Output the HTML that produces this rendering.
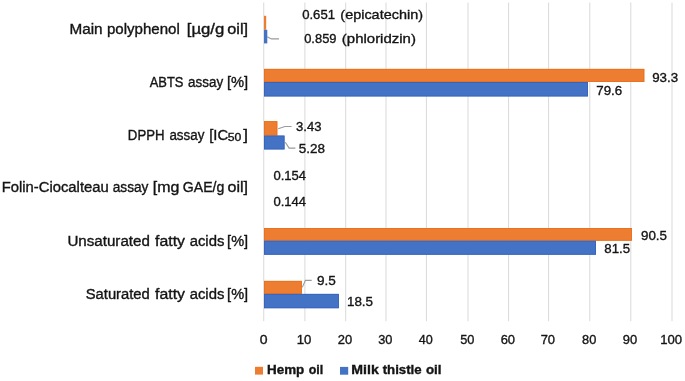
<!DOCTYPE html><html><head><meta charset="utf-8"><style>html,body{margin:0;padding:0;background:#fff;overflow:hidden}svg{display:block;will-change:transform}text{font-family:"Liberation Sans",sans-serif}</style></head><body>
<svg width="685" height="381" viewBox="0 0 685 381">
<rect width="685" height="381" fill="#fff"/>
<line x1="263.76" y1="2.5" x2="263.76" y2="321.2" stroke="#d9d9d9" stroke-width="1"/>
<line x1="304.90" y1="2.5" x2="304.90" y2="321.2" stroke="#d9d9d9" stroke-width="1"/>
<line x1="345.70" y1="2.5" x2="345.70" y2="321.2" stroke="#d9d9d9" stroke-width="1"/>
<line x1="386.00" y1="2.5" x2="386.00" y2="321.2" stroke="#d9d9d9" stroke-width="1"/>
<line x1="426.40" y1="2.5" x2="426.40" y2="321.2" stroke="#d9d9d9" stroke-width="1"/>
<line x1="468.00" y1="2.5" x2="468.00" y2="321.2" stroke="#d9d9d9" stroke-width="1"/>
<line x1="508.60" y1="2.5" x2="508.60" y2="321.2" stroke="#d9d9d9" stroke-width="1"/>
<line x1="548.60" y1="2.5" x2="548.60" y2="321.2" stroke="#d9d9d9" stroke-width="1"/>
<line x1="589.80" y1="2.5" x2="589.80" y2="321.2" stroke="#d9d9d9" stroke-width="1"/>
<line x1="630.80" y1="2.5" x2="630.80" y2="321.2" stroke="#d9d9d9" stroke-width="1"/>
<line x1="672.00" y1="2.5" x2="672.00" y2="321.2" stroke="#d9d9d9" stroke-width="1"/>
<rect x="264.0" y="15.8" width="2.20" height="14.00" fill="#ed7d31"/>
<rect x="264.0" y="29.8" width="3.30" height="13.60" fill="#4472c4"/>
<rect x="264.0" y="68.9" width="380.30" height="13.10" fill="#ed7d31"/>
<rect x="264.0" y="82.0" width="324.00" height="14.40" fill="#4472c4"/>
<rect x="264.4" y="69.30000000000001" width="379.50" height="12.30" fill="none" stroke="#e86f1c" stroke-width="0.8"/>
<rect x="264.4" y="82.4" width="323.20" height="13.60" fill="none" stroke="#3562bd" stroke-width="0.8"/>
<rect x="264.0" y="121.2" width="13.30" height="14.40" fill="#ed7d31"/>
<rect x="264.0" y="135.6" width="20.50" height="13.80" fill="#4472c4"/>
<rect x="264.4" y="121.60000000000001" width="12.50" height="13.60" fill="none" stroke="#e86f1c" stroke-width="0.8"/>
<rect x="264.4" y="136.0" width="19.70" height="13.00" fill="none" stroke="#3562bd" stroke-width="0.8"/>
<rect x="264.0" y="228.0" width="367.90" height="12.70" fill="#ed7d31"/>
<rect x="264.0" y="240.7" width="332.00" height="14.00" fill="#4472c4"/>
<rect x="264.4" y="228.4" width="367.10" height="11.90" fill="none" stroke="#e86f1c" stroke-width="0.8"/>
<rect x="264.4" y="241.1" width="331.20" height="13.20" fill="none" stroke="#3562bd" stroke-width="0.8"/>
<rect x="264.0" y="280.9" width="37.90" height="13.00" fill="#ed7d31"/>
<rect x="264.0" y="293.9" width="74.90" height="14.30" fill="#4472c4"/>
<rect x="264.4" y="281.29999999999995" width="37.10" height="12.20" fill="none" stroke="#e86f1c" stroke-width="0.8"/>
<rect x="264.4" y="294.29999999999995" width="74.10" height="13.50" fill="none" stroke="#3562bd" stroke-width="0.8"/>
<path d="M267.2,36.7 L271.4,38.9 L279.0,38.9" fill="none" stroke="#9a9a9a" stroke-width="1.1"/>
<path d="M278.2,128.8 L284.9,126.5 L291.6,126.5" fill="none" stroke="#9a9a9a" stroke-width="1.1"/>
<path d="M285.3,142.2 L289.1,148.1 L295.4,148.1" fill="none" stroke="#9a9a9a" stroke-width="1.1"/>
<path d="M302.3,287.4 L305.4,280.4 L311.7,280.4" fill="none" stroke="#9a9a9a" stroke-width="1.1"/>
<rect x="255.0" y="366.8" width="8" height="7.8" fill="#ed7d31"/>
<rect x="340.0" y="366.9" width="8.2" height="7.8" fill="#4472c4"/>
<text transform="translate(69.40,34.00) scale(1.0864,1)" font-size="14.08" fill="#141414" stroke="#141414" stroke-width="0.35">Main</text>
<text transform="translate(106.96,34.00) scale(1.0693,1)" font-size="14.08" fill="#141414" stroke="#141414" stroke-width="0.35">polyphenol</text>
<text transform="translate(186.75,34.00) scale(1.1896,1)" font-size="14.08" fill="#141414" stroke="#141414" stroke-width="0.35">[µg/g</text>
<text transform="translate(227.19,34.00) scale(1.1598,1)" font-size="14.08" fill="#141414" stroke="#141414" stroke-width="0.35">oil]</text>
<text transform="translate(149.70,87.00) scale(0.9176,1)" font-size="14.08" fill="#141414" stroke="#141414" stroke-width="0.35">ABTS</text>
<text transform="translate(188.08,87.00) scale(0.9548,1)" font-size="14.08" fill="#141414" stroke="#141414" stroke-width="0.35">assay</text>
<text transform="translate(226.88,87.00) scale(1.0466,1)" font-size="14.08" fill="#141414" stroke="#141414" stroke-width="0.35">[%]</text>
<text transform="translate(127.87,140.00) scale(0.9384,1)" font-size="14.08" fill="#141414" stroke="#141414" stroke-width="0.35">DPPH</text>
<text transform="translate(169.38,140.00) scale(0.9521,1)" font-size="14.08" fill="#141414" stroke="#141414" stroke-width="0.35">assay</text>
<text transform="translate(209.17,140.00) scale(1.0527,1)" font-size="14.08" fill="#141414" stroke="#141414" stroke-width="0.35">[IC</text>
<text transform="translate(227.82,140.60) scale(1.1764,1)" font-size="10.38" fill="#141414" stroke="#141414" stroke-width="0.35">50</text>
<text transform="translate(243.30,140.00) scale(1.2013,1)" font-size="14.08" fill="#141414" stroke="#141414" stroke-width="0.35">]</text>
<text transform="translate(1.74,192.00) scale(1.0526,1)" font-size="14.08" fill="#141414" stroke="#141414" stroke-width="0.35">Folin-Ciocalteau</text>
<text transform="translate(112.67,192.00) scale(0.9741,1)" font-size="14.08" fill="#141414" stroke="#141414" stroke-width="0.35">assay</text>
<text transform="translate(152.80,192.00) scale(1.1330,1)" font-size="14.08" fill="#141414" stroke="#141414" stroke-width="0.35">[mg</text>
<text transform="translate(182.84,192.00) scale(1.0018,1)" font-size="14.08" fill="#141414" stroke="#141414" stroke-width="0.35">GAE/g</text>
<text transform="translate(227.50,192.00) scale(1.1419,1)" font-size="14.08" fill="#141414" stroke="#141414" stroke-width="0.35">oil]</text>
<text transform="translate(67.45,246.00) scale(1.0742,1)" font-size="14.08" fill="#141414" stroke="#141414" stroke-width="0.35">Unsaturated</text>
<text transform="translate(155.00,246.00) scale(1.1276,1)" font-size="14.08" fill="#141414" stroke="#141414" stroke-width="0.35">fatty</text>
<text transform="translate(189.64,246.00) scale(1.0566,1)" font-size="14.08" fill="#141414" stroke="#141414" stroke-width="0.35">acids</text>
<text transform="translate(227.09,246.00) scale(1.0359,1)" font-size="14.08" fill="#141414" stroke="#141414" stroke-width="0.35">[%]</text>
<text transform="translate(85.74,299.00) scale(1.0497,1)" font-size="14.08" fill="#141414" stroke="#141414" stroke-width="0.35">Saturated</text>
<text transform="translate(155.00,299.00) scale(1.1276,1)" font-size="14.08" fill="#141414" stroke="#141414" stroke-width="0.35">fatty</text>
<text transform="translate(189.64,299.00) scale(1.0566,1)" font-size="14.08" fill="#141414" stroke="#141414" stroke-width="0.35">acids</text>
<text transform="translate(227.09,299.00) scale(1.0359,1)" font-size="14.08" fill="#141414" stroke="#141414" stroke-width="0.35">[%]</text>
<text transform="translate(302.19,19.00) scale(1.0140,1)" font-size="12.94" fill="#141414" stroke="#141414" stroke-width="0.35">0.651</text>
<text transform="translate(340.32,19.00) scale(1.1165,1)" font-size="12.94" fill="#141414" stroke="#141414" stroke-width="0.35">(epicatechin)</text>
<text transform="translate(304.20,43.00) scale(0.9982,1)" font-size="12.94" fill="#141414" stroke="#141414" stroke-width="0.35">0.859</text>
<text transform="translate(341.80,43.00) scale(1.1588,1)" font-size="12.94" fill="#141414" stroke="#141414" stroke-width="0.35">(phloridzin)</text>
<text transform="translate(652.17,82.00) scale(1.0308,1)" font-size="12.94" fill="#141414" stroke="#141414" stroke-width="0.35">93.3</text>
<text transform="translate(596.27,95.00) scale(1.0308,1)" font-size="12.94" fill="#141414" stroke="#141414" stroke-width="0.35">79.6</text>
<text transform="translate(296.09,131.20) scale(1.0099,1)" font-size="12.94" fill="#141414" stroke="#141414" stroke-width="0.35">3.43</text>
<text transform="translate(298.78,152.60) scale(1.0429,1)" font-size="12.94" fill="#141414" stroke="#141414" stroke-width="0.35">5.28</text>
<text transform="translate(273.39,179.50) scale(1.0107,1)" font-size="12.94" fill="#141414" stroke="#141414" stroke-width="0.35">0.154</text>
<text transform="translate(273.39,205.90) scale(1.0107,1)" font-size="12.94" fill="#141414" stroke="#141414" stroke-width="0.35">0.144</text>
<text transform="translate(640.97,239.70) scale(1.0350,1)" font-size="12.94" fill="#141414" stroke="#141414" stroke-width="0.35">90.5</text>
<text transform="translate(604.29,252.80) scale(1.0222,1)" font-size="12.94" fill="#141414" stroke="#141414" stroke-width="0.35">81.5</text>
<text transform="translate(316.96,285.30) scale(1.0498,1)" font-size="12.94" fill="#141414" stroke="#141414" stroke-width="0.35">9.5</text>
<text transform="translate(346.96,306.20) scale(1.0354,1)" font-size="12.94" fill="#141414" stroke="#141414" stroke-width="0.35">18.5</text>
<text transform="translate(267.06,374.30) scale(1.0970,1)" font-size="12.23" fill="#141414" stroke="#141414" stroke-width="0.35" font-weight="bold">Hemp</text>
<text transform="translate(308.71,374.30) scale(1.0180,1)" font-size="12.23" fill="#141414" stroke="#141414" stroke-width="0.35" font-weight="bold">oil</text>
<text transform="translate(351.32,374.30) scale(1.1558,1)" font-size="12.23" fill="#141414" stroke="#141414" stroke-width="0.35" font-weight="bold">Milk</text>
<text transform="translate(382.70,374.30) scale(1.0808,1)" font-size="12.23" fill="#141414" stroke="#141414" stroke-width="0.35" font-weight="bold">thistle</text>
<text transform="translate(425.88,374.30) scale(1.0940,1)" font-size="12.23" fill="#141414" stroke="#141414" stroke-width="0.35" font-weight="bold">oil</text>
<text transform="translate(259.82,344.30) scale(1.0817,1)" font-size="12.94" fill="#141414" stroke="#141414" stroke-width="0.35">0</text>
<text transform="translate(296.73,344.30) scale(1.0178,1)" font-size="12.94" fill="#141414" stroke="#141414" stroke-width="0.35">10</text>
<text transform="translate(337.74,344.30) scale(1.0025,1)" font-size="12.94" fill="#141414" stroke="#141414" stroke-width="0.35">20</text>
<text transform="translate(378.25,344.30) scale(0.9876,1)" font-size="12.94" fill="#141414" stroke="#141414" stroke-width="0.35">30</text>
<text transform="translate(418.85,344.30) scale(0.9732,1)" font-size="12.94" fill="#141414" stroke="#141414" stroke-width="0.35">40</text>
<text transform="translate(460.25,344.30) scale(0.9876,1)" font-size="12.94" fill="#141414" stroke="#141414" stroke-width="0.35">50</text>
<text transform="translate(500.64,344.30) scale(1.0025,1)" font-size="12.94" fill="#141414" stroke="#141414" stroke-width="0.35">60</text>
<text transform="translate(540.64,344.30) scale(1.0025,1)" font-size="12.94" fill="#141414" stroke="#141414" stroke-width="0.35">70</text>
<text transform="translate(582.05,344.30) scale(0.9876,1)" font-size="12.94" fill="#141414" stroke="#141414" stroke-width="0.35">80</text>
<text transform="translate(622.84,344.30) scale(1.0025,1)" font-size="12.94" fill="#141414" stroke="#141414" stroke-width="0.35">90</text>
<text transform="translate(660.18,344.30) scale(1.0165,1)" font-size="12.94" fill="#141414" stroke="#141414" stroke-width="0.35">100</text>
</svg></body></html>
